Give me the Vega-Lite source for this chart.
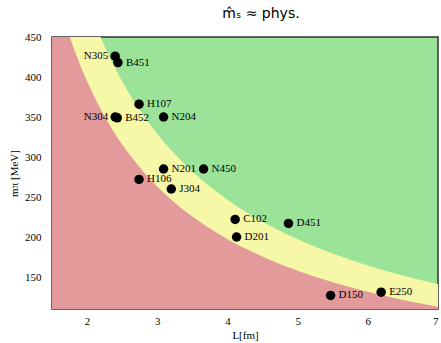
{
  "$schema": "https://vega.github.io/schema/vega-lite/v6.json",
  "width": 386,
  "height": 272,
  "autosize": {"type": "none"},
  "padding": {"left": 52, "top": 37, "right": 3, "bottom": 34},
  "title": {"text": "m̂ₛ ≈ phys.", "font": "DejaVu Sans", "fontSize": 14, "fontWeight": "normal", "color": "#000", "dx": 16, "offset": 10},
  "config": {
    "view": {"fill": "#9ce39a", "stroke": "#333", "strokeWidth": 1.5},
    "axis": {"grid": false, "ticks": false, "domain": false, "labelFont": "Liberation Serif", "labelFontSize": 11, "labelColor": "#000", "titleFont": "Liberation Serif", "titleFontSize": 11, "titleFontWeight": "normal", "titleColor": "#000"}
  },
  "datasets": {
    "curves": [
      {"L": 1.5, "b4": 526.2, "b5": 657.7},
      {"L": 1.6, "b4": 493.3, "b5": 616.6},
      {"L": 1.7, "b4": 464.3, "b5": 580.4},
      {"L": 1.8, "b4": 438.5, "b5": 548.1},
      {"L": 1.9, "b4": 415.4, "b5": 519.3},
      {"L": 2.0, "b4": 394.7, "b5": 493.3},
      {"L": 2.1, "b4": 375.9, "b5": 469.8},
      {"L": 2.2, "b4": 358.8, "b5": 448.5},
      {"L": 2.3, "b4": 343.2, "b5": 429.0},
      {"L": 2.4, "b4": 328.9, "b5": 411.1},
      {"L": 2.5, "b4": 315.7, "b5": 394.6},
      {"L": 2.6, "b4": 303.6, "b5": 379.5},
      {"L": 2.8, "b4": 281.9, "b5": 352.4},
      {"L": 3.0, "b4": 263.1, "b5": 328.9},
      {"L": 3.2, "b4": 246.7, "b5": 308.3},
      {"L": 3.4, "b4": 232.1, "b5": 290.2},
      {"L": 3.6, "b4": 219.3, "b5": 274.1},
      {"L": 3.8, "b4": 207.7, "b5": 259.6},
      {"L": 4.0, "b4": 197.3, "b5": 246.7},
      {"L": 4.3, "b4": 183.6, "b5": 229.4},
      {"L": 4.6, "b4": 171.6, "b5": 214.5},
      {"L": 5.0, "b4": 157.9, "b5": 197.3},
      {"L": 5.5, "b4": 143.5, "b5": 179.4},
      {"L": 6.0, "b4": 131.6, "b5": 164.4},
      {"L": 6.5, "b4": 121.4, "b5": 151.8},
      {"L": 7.0, "b4": 112.8, "b5": 140.9}
    ],
    "ensembles": [
      {"name": "N305", "L": 2.40, "m": 426},
      {"name": "B451", "L": 2.44, "m": 418},
      {"name": "H107", "L": 2.74, "m": 366},
      {"name": "N304", "L": 2.40, "m": 350},
      {"name": "B452", "L": 2.43, "m": 349},
      {"name": "N204", "L": 3.09, "m": 350},
      {"name": "N201", "L": 3.09, "m": 285},
      {"name": "N450", "L": 3.66, "m": 285},
      {"name": "H106", "L": 2.74, "m": 272},
      {"name": "J304", "L": 3.20, "m": 260},
      {"name": "C102", "L": 4.11, "m": 222},
      {"name": "D451", "L": 4.87, "m": 217},
      {"name": "D201", "L": 4.13, "m": 200},
      {"name": "D150", "L": 5.47, "m": 127},
      {"name": "E250", "L": 6.19, "m": 131}
    ]
  },
  "layer": [
    {
      "data": {"name": "curves"},
      "mark": {"type": "area", "color": "#f7f7a8", "interpolate": "monotone", "clip": true},
      "encoding": {
        "x": {"field": "L", "type": "quantitative", "scale": {"domain": [1.5, 7], "nice": false}, "axis": {"values": [2, 3, 4, 5, 6, 7], "format": "d", "title": "L[fm]", "labelPadding": 6, "titlePadding": 3}},
        "y": {"field": "b5", "type": "quantitative", "scale": {"domain": [110, 450], "nice": false, "zero": false}, "axis": {"values": [150, 200, 250, 300, 350, 400, 450], "title": "mπ [MeV]", "labelPadding": 11, "titlePadding": 5}},
        "y2": {"datum": 110}
      }
    },
    {
      "data": {"name": "curves"},
      "mark": {"type": "area", "color": "#e29a9a", "interpolate": "monotone", "clip": true},
      "encoding": {
        "x": {"field": "L", "type": "quantitative"},
        "y": {"field": "b4", "type": "quantitative"},
        "y2": {"datum": 110}
      }
    },
    {
      "data": {"name": "ensembles"},
      "mark": {"type": "circle", "color": "#000", "opacity": 1, "size": 90},
      "encoding": {
        "x": {"field": "L", "type": "quantitative"},
        "y": {"field": "m", "type": "quantitative"}
      }
    },
    {
      "data": {"name": "ensembles"},
      "transform": [{"filter": "datum.name != 'N305' && datum.name != 'N304'"}],
      "mark": {"type": "text", "align": "left", "baseline": "middle", "dx": 8, "font": "Liberation Serif", "fontSize": 11, "color": "#000"},
      "encoding": {
        "x": {"field": "L", "type": "quantitative"},
        "y": {"field": "m", "type": "quantitative"},
        "text": {"field": "name"}
      }
    },
    {
      "data": {"name": "ensembles"},
      "transform": [{"filter": "datum.name == 'N305' || datum.name == 'N304'"}],
      "mark": {"type": "text", "align": "right", "baseline": "middle", "dx": -7, "font": "Liberation Serif", "fontSize": 11, "color": "#000"},
      "encoding": {
        "x": {"field": "L", "type": "quantitative"},
        "y": {"field": "m", "type": "quantitative"},
        "text": {"field": "name"}
      }
    }
  ]
}
